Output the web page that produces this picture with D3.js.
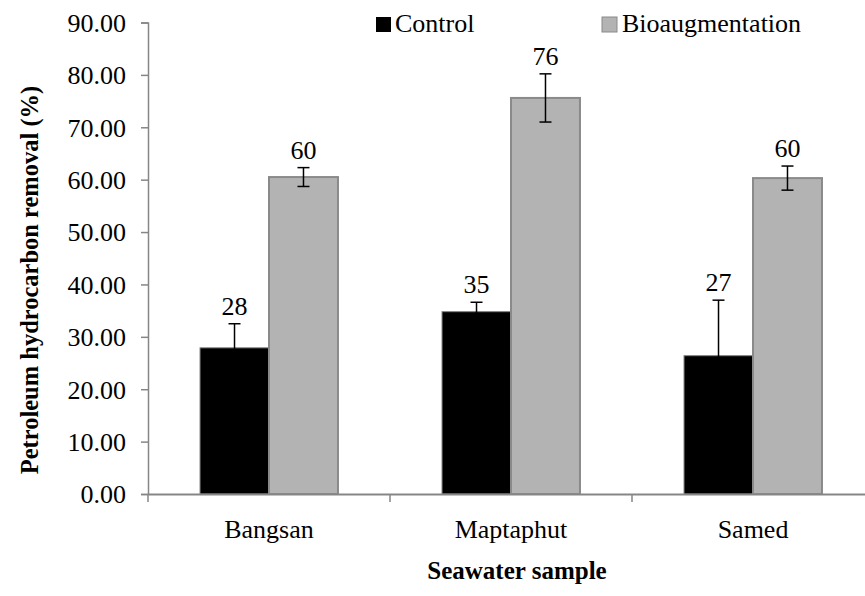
<!DOCTYPE html>
<html>
<head>
<meta charset="utf-8">
<script src="https://cdn.jsdelivr.net/npm/d3@7"></script>
<style>
  body { margin: 0; background: #fff; }
  svg text { font-family: "Liberation Serif", "Times New Roman", serif !important; }
</style>
</head>
<body>
<div id="graph1"></div>
<script>
const samples = ["Bangsan", "Maptaphut", "Samed"]
const seriesNames = ["Control", "Bioaugmentation"]
const controlValues = [27.9, 34.8, 26.4]
const controlErrors = [4.6, 1.8, 10.6]
const bioValues = [60.5, 75.6, 60.3]
const bioErrors = [1.8, 4.6, 2.3]
const barLabels = [["28", "35", "27"], ["60", "76", "60"]]
const yTicks = [0, 10, 20, 30, 40, 50, 60, 70, 80, 90]

const width = 865, height = 596
const margin = {top: 22.5, left: 148, right: -9, bottom: 102}

let svg = d3.select("#graph1")
    .append("svg")
    .attr("width", width)
    .attr("height", height)
    .attr("font-family", "Liberation Serif, serif")

let plot = svg.append("g")
    .attr("transform", `translate(${margin.left}, ${margin.top})`)

const plotW = width - margin.left - margin.right
const plotH = height - margin.top - margin.bottom

let y = d3.scaleLinear()
    .domain([0, 90])
    .range([plotH, 0])

let x = d3.scaleBand()
    .domain(samples)
    .range([0, plotW])
    .padding(0)

let sub = d3.scaleBand()
    .domain(seriesNames)
    .range([x.bandwidth() * 0.215, x.bandwidth() * 0.785])
    .padding(0)

const fills = {"Control": "#000000", "Bioaugmentation": "#b3b3b3"}
const strokes = {"Control": "#7f7f7f", "Bioaugmentation": "#8a8a8a"}
const axisColor = "#868686"

// build rows for bars
let rows = []
samples.forEach((s, i) => {
    rows.push({sample: s, series: "Control", value: controlValues[i], err: controlErrors[i], label: barLabels[0][i]})
    rows.push({sample: s, series: "Bioaugmentation", value: bioValues[i], err: bioErrors[i], label: barLabels[1][i]})
})

// y axis
let yAxis = plot.append("g")
    .call(d3.axisLeft(y).tickValues(yTicks).tickSize(7).tickPadding(15).tickFormat(d3.format(".2f")))
yAxis.attr("font-family", null)
yAxis.select(".domain").attr("stroke", axisColor).attr("stroke-width", 1.5)
yAxis.selectAll(".tick line").attr("stroke", axisColor).attr("stroke-width", 1.5)
yAxis.selectAll(".tick text")
    .attr("fill", "#000")
    .style("font-size", "26px")
    .attr("dy", "0.34em")

// bars
plot.selectAll("rect.bar")
    .data(rows)
    .enter()
    .append("rect")
    .attr("class", "bar")
    .attr("x", d => x(d.sample) + sub(d.series))
    .attr("y", d => y(d.value))
    .attr("width", sub.bandwidth())
    .attr("height", d => y(0) - y(d.value))
    .attr("fill", d => fills[d.series])
    .attr("stroke", d => strokes[d.series])
    .attr("stroke-width", d => d.series === "Control" ? 1 : 2)

// x axis (drawn after bars so it sits on top)
let xAxis = plot.append("g")
    .attr("transform", `translate(0, ${plotH})`)
    .call(d3.axisBottom(x).tickSize(0).tickPadding(26))
xAxis.attr("font-family", null)
xAxis.select(".domain").attr("stroke", axisColor).attr("stroke-width", 2)
xAxis.selectAll(".tick text")
    .attr("fill", "#000")
    .style("font-size", "26px")

// category separator ticks
plot.append("g")
    .selectAll("line")
    .data(samples.concat(["end"]))
    .enter()
    .append("line")
    .attr("x1", (d, i) => i * x.step())
    .attr("x2", (d, i) => i * x.step())
    .attr("y1", plotH)
    .attr("y2", plotH + 8)
    .attr("stroke", axisColor)
    .attr("stroke-width", 1.5)

// error bars
const capW = 12
let errs = plot.append("g").selectAll("g").data(rows).enter().append("g")
errs.append("line")
    .attr("x1", d => x(d.sample) + sub(d.series) + sub.bandwidth() / 2)
    .attr("x2", d => x(d.sample) + sub(d.series) + sub.bandwidth() / 2)
    .attr("y1", d => y(d.value - d.err))
    .attr("y2", d => y(d.value + d.err))
    .attr("stroke", "#000").attr("stroke-width", 1.5)
errs.selectAll("line.cap")
    .data(d => [d.value - d.err, d.value + d.err].map(v => ({d: d, v: v})))
    .enter()
    .append("line")
    .attr("class", "cap")
    .attr("x1", e => x(e.d.sample) + sub(e.d.series) + sub.bandwidth() / 2 - capW / 2)
    .attr("x2", e => x(e.d.sample) + sub(e.d.series) + sub.bandwidth() / 2 + capW / 2)
    .attr("y1", e => y(e.v))
    .attr("y2", e => y(e.v))
    .attr("stroke", "#000").attr("stroke-width", 1.5)

// value labels
plot.append("g").selectAll("text")
    .data(rows)
    .enter()
    .append("text")
    .attr("x", d => x(d.sample) + sub(d.series) + sub.bandwidth() / 2)
    .attr("y", d => y(d.value + d.err) - 9)
    .attr("text-anchor", "middle")
    .style("font-size", "26px")
    .text(d => d.label)

// legend
let legend = svg.append("g")
let legendX = [376, 602]
seriesNames.forEach((name, i) => {
    legend.append("rect")
        .attr("x", legendX[i])
        .attr("y", 17)
        .attr("width", 15)
        .attr("height", 15)
        .attr("fill", fills[name])
        .attr("stroke", i === 0 ? "none" : strokes[name])
        .attr("stroke-width", 1)
    legend.append("text")
        .attr("x", legendX[i] + (i === 0 ? 19 : 20))
        .attr("y", 32)
        .style("font-size", "26px")
        .text(name)
})

// axis titles
svg.append("text")
    .attr("x", 517)
    .attr("y", 579)
    .attr("text-anchor", "middle")
    .style("font-size", "25px")
    .style("font-weight", "bold")
    .text("Seawater sample")

svg.append("text")
    .attr("transform", "translate(38, 280) rotate(-90)")
    .attr("text-anchor", "middle")
    .style("font-size", "24.5px")
    .style("font-weight", "bold")
    .text("Petroleum hydrocarbon removal (%)")
</script>
</body>
</html>
